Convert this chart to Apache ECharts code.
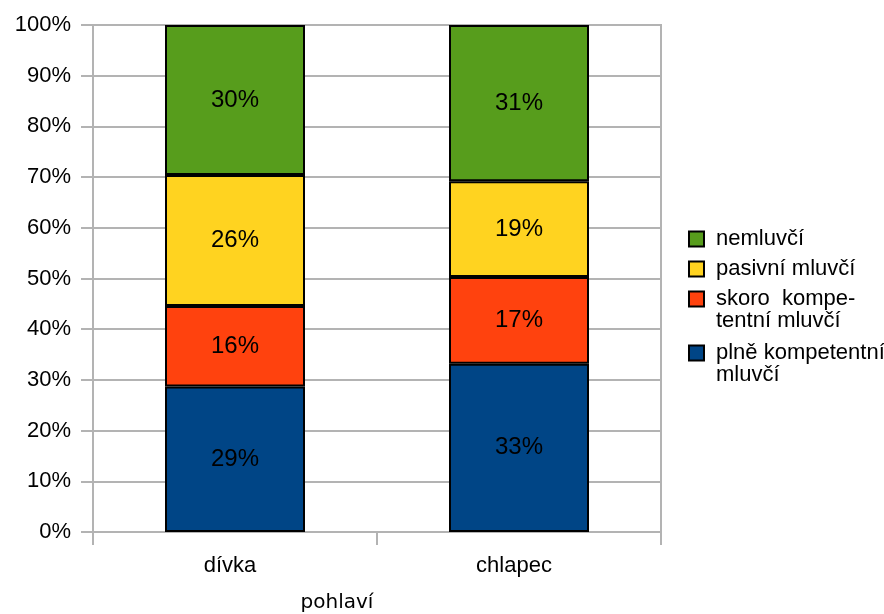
<!DOCTYPE html>
<html>
<head>
<meta charset="utf-8">
<script src="https://cdn.jsdelivr.net/npm/echarts@6/dist/echarts.min.js"></script>
<style>
  html, body { margin: 0; padding: 0; background: #fff; }
  #chart { width: 884px; height: 614px; }
</style>
</head>
<body>
<div id="chart"></div>
<script>
// Share of speaker types by gender (percent of each group)
const categories = ['dívka', 'chlapec'];
const fullyCompetent = [28.7, 33.2];   // plně kompetentní mluvčí
const almostCompetent = [15.9, 17.1];  // skoro kompetentní mluvčí
const passive = [25.8, 18.9];          // pasivní mluvčí
const nonSpeakers = [29.6, 30.8];      // nemluvčí
const yTicks = [0, 10, 20, 30, 40, 50, 60, 70, 80, 90, 100];

const seriesNames = ['plně kompetentní mluvčí', 'skoro kompetentní mluvčí', 'pasivní mluvčí', 'nemluvčí'];
const legendText = {
  'nemluvčí': 'nemluvčí',
  'pasivní mluvčí': 'pasivní mluvčí',
  // leading blank line keeps the first text line level with the swatch
  'skoro kompetentní mluvčí': '\nskoro  kompe-\ntentní mluvčí',
  'plně kompetentní mluvčí': '\nplně kompetentní\nmluvčí'
};
const colors = ['#004586', '#ff420e', '#ffd320', '#579d1c'];
const seriesData = [fullyCompetent, almostCompetent, passive, nonSpeakers];

const gridColor = '#b3b3b3';
const font = 'Liberation Sans, Arial, sans-serif';

const chart = echarts.init(document.getElementById('chart'), null, { renderer: 'canvas' });

// one legend block per entry, listed top-down from the stack's top
const legendRows = [
  { name: 'nemluvčí', top: 228 },
  { name: 'pasivní mluvčí', top: 258 },
  { name: 'skoro kompetentní mluvčí', top: 266 },
  { name: 'plně kompetentní mluvčí', top: 320 }
];

const option = {
  animation: false,
  backgroundColor: '#ffffff',
  grid: {
    left: 93, right: 223, top: 25, bottom: 82,
    show: true, borderColor: gridColor, borderWidth: 2,
    containLabel: false,
    outerBoundsMode: 'none'
  },
  legend: legendRows.map(r => ({
    data: [r.name],
    orient: 'vertical',
    left: 688,
    top: r.top,
    padding: 0,
    itemWidth: 29,
    itemHeight: 15,
    icon: 'path://M0,0H10V10H0Z',
    symbolKeepAspect: true,
    selectedMode: false,
    itemStyle: { borderColor: '#000', borderWidth: 2 },
    formatter: name => legendText[name],
    textStyle: { fontFamily: font, fontSize: 22, color: '#000', lineHeight: 22 }
  })),
  xAxis: {
    type: 'category',
    data: categories,
    name: 'pohlaví',
    nameLocation: 'middle',
    nameGap: 61,
    nameTextStyle: {
      fontFamily: 'DejaVu Sans, sans-serif', fontSize: 20, color: '#000',
      padding: [0, 80, 0, 0]
    },
    axisLine: { lineStyle: { color: gridColor, width: 2 } },
    axisTick: { show: true, length: 13, lineStyle: { color: gridColor, width: 2 } },
    axisLabel: {
      fontFamily: font, fontSize: 22, color: '#000', margin: 23,
      padding: [0, 10, 0, 0]
    }
  },
  yAxis: {
    type: 'value',
    min: yTicks[0],
    max: yTicks[yTicks.length - 1],
    interval: yTicks[1] - yTicks[0],
    axisLine: { show: true, lineStyle: { color: gridColor, width: 2 } },
    axisTick: { show: true, length: 12, lineStyle: { color: gridColor, width: 2 } },
    splitLine: { show: true, lineStyle: { color: gridColor, width: 2 } },
    axisLabel: {
      fontFamily: font, fontSize: 22, color: '#000', margin: 22,
      formatter: '{value}%'
    }
  },
  series: seriesNames.map((name, i) => ({
    name: name,
    type: 'bar',
    stack: 'share',
    barWidth: 140,
    data: seriesData[i],
    itemStyle: { color: colors[i], borderColor: '#000', borderWidth: 2 },
    label: {
      show: true,
      position: 'inside',
      fontFamily: font,
      fontSize: 24,
      color: '#000',
      formatter: p => Math.round(p.value) + '%'
    }
  }))
};

chart.setOption(option);
</script>
</body>
</html>
